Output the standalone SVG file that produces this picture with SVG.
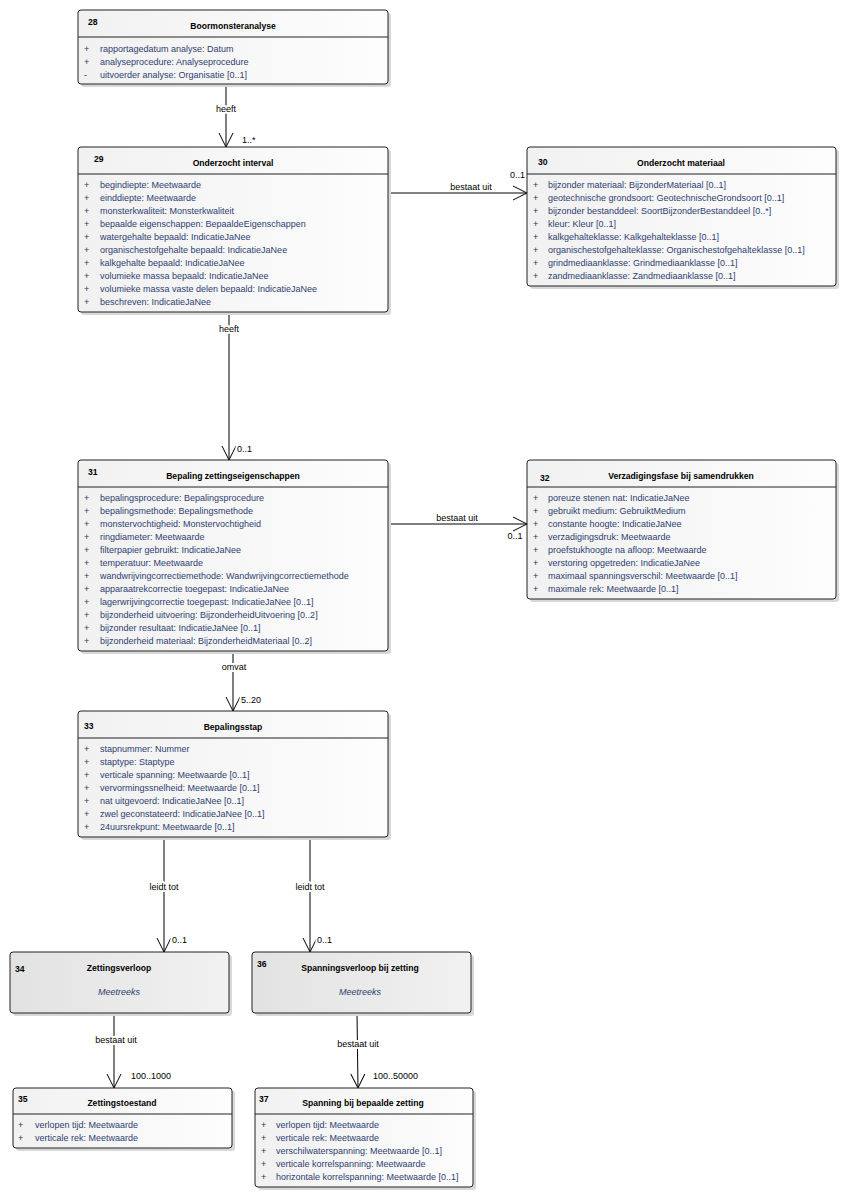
<svg xmlns="http://www.w3.org/2000/svg" width="847" height="1198" viewBox="0 0 847 1198">
<defs>
<linearGradient id="gBox" x1="0" y1="0" x2="1" y2="0">
<stop offset="0" stop-color="#f1f1f1"/>
<stop offset="1" stop-color="#fdfdfd"/>
</linearGradient>
<linearGradient id="gDark" x1="0" y1="0" x2="1" y2="0">
<stop offset="0" stop-color="#e2e2e2"/>
<stop offset="1" stop-color="#f1f1f1"/>
</linearGradient>
<marker id="arr" markerUnits="userSpaceOnUse" markerWidth="18" markerHeight="18" refX="16" refY="9" orient="auto">
<path d="M2,2 L16,9 L2,16" fill="none" stroke="#000" stroke-width="1"/>
</marker>
</defs>
<style>
.box{fill:url(#gBox);stroke:#222;stroke-width:1}
.dark{fill:url(#gDark);stroke:#222;stroke-width:1}
.shadow{fill:#d8d8d8;stroke:none}
.div{stroke:#222;stroke-width:1}
text{font-family:"Liberation Sans",Arial,sans-serif;font-size:9px}
.num{font-weight:bold;fill:#000;font-size:8.6px}
.title{font-weight:bold;fill:#000;text-anchor:middle;font-size:8.6px}
.vis{fill:#2a3550}
.attr{fill:#2f4070}
.it{font-style:italic;fill:#2f4070;text-anchor:middle}
.con{stroke:#000;stroke-width:1;fill:none}
.lbl{fill:#000;paint-order:stroke;stroke:#fff;stroke-width:4px;stroke-linejoin:round}
.mid{text-anchor:middle}
.end{text-anchor:end}
</style>

<g id="connectors">
<line class="con" x1="226" y1="84" x2="226" y2="147" marker-end="url(#arr)"/>
<text class="lbl mid" x="226" y="112">heeft</text>
<text class="lbl" x="242" y="143">1..*</text>

<line class="con" x1="388" y1="193" x2="527" y2="193" marker-end="url(#arr)"/>
<text class="lbl mid" x="471" y="190">bestaat uit</text>
<text class="lbl end" x="525" y="177.5">0..1</text>

<line class="con" x1="229" y1="312" x2="229" y2="460" marker-end="url(#arr)"/>
<text class="lbl mid" x="229" y="332">heeft</text>
<text class="lbl" x="237" y="452">0..1</text>

<line class="con" x1="388" y1="524" x2="527" y2="524" marker-end="url(#arr)"/>
<text class="lbl mid" x="457" y="520.5">bestaat uit</text>
<text class="lbl mid" x="515" y="539">0..1</text>

<line class="con" x1="233" y1="651" x2="233" y2="711" marker-end="url(#arr)"/>
<text class="lbl mid" x="234" y="670">omvat</text>
<text class="lbl" x="241" y="703">5..20</text>

<line class="con" x1="164" y1="837" x2="164" y2="952" marker-end="url(#arr)"/>
<text class="lbl mid" x="164" y="890">leidt tot</text>
<text class="lbl" x="172" y="943">0..1</text>

<line class="con" x1="310" y1="837" x2="310" y2="952" marker-end="url(#arr)"/>
<text class="lbl mid" x="310" y="890">leidt tot</text>
<text class="lbl" x="317" y="943">0..1</text>

<line class="con" x1="114" y1="1013" x2="114" y2="1088" marker-end="url(#arr)"/>
<text class="lbl mid" x="116" y="1043">bestaat uit</text>
<text class="lbl" x="131" y="1079">100..1000</text>

<line class="con" x1="357" y1="1013" x2="358" y2="1088" marker-end="url(#arr)"/>
<text class="lbl mid" x="358" y="1047">bestaat uit</text>
<text class="lbl" x="373" y="1079">100..50000</text>
</g>

<g id="n28">
<rect class="shadow" x="81" y="13" width="310" height="74" rx="3"/>
<rect class="box" x="78" y="10" width="310" height="74" rx="3"/>
<line class="div" x1="78" y1="37" x2="388" y2="37"/>
<text class="num" x="88" y="25">28</text>
<text class="title" x="233" y="29">Boormonsteranalyse</text>
<text class="vis" x="84" y="51.5">+</text><text class="attr" x="100" y="51.5">rapportagedatum analyse: Datum</text>
<text class="vis" x="84" y="64.5">+</text><text class="attr" x="100" y="64.5">analyseprocedure: Analyseprocedure</text>
<text class="vis" x="84" y="77.5">-</text><text class="attr" x="100" y="77.5">uitvoerder analyse: Organisatie [0..1]</text>
</g>

<g id="n29">
<rect class="shadow" x="81" y="150" width="310" height="165" rx="3"/>
<rect class="box" x="78" y="147" width="310" height="165" rx="3"/>
<line class="div" x1="78" y1="174" x2="388" y2="174"/>
<text class="num" x="94" y="162">29</text>
<text class="title" x="233" y="166">Onderzocht interval</text>
<text class="vis" x="84" y="187.5">+</text><text class="attr" x="100" y="187.5">begindiepte: Meetwaarde</text>
<text class="vis" x="84" y="200.5">+</text><text class="attr" x="100" y="200.5">einddiepte: Meetwaarde</text>
<text class="vis" x="84" y="213.5">+</text><text class="attr" x="100" y="213.5">monsterkwaliteit: Monsterkwaliteit</text>
<text class="vis" x="84" y="226.5">+</text><text class="attr" x="100" y="226.5">bepaalde eigenschappen: BepaaldeEigenschappen</text>
<text class="vis" x="84" y="239.5">+</text><text class="attr" x="100" y="239.5">watergehalte bepaald: IndicatieJaNee</text>
<text class="vis" x="84" y="252.5">+</text><text class="attr" x="100" y="252.5">organischestofgehalte bepaald: IndicatieJaNee</text>
<text class="vis" x="84" y="265.5">+</text><text class="attr" x="100" y="265.5">kalkgehalte bepaald: IndicatieJaNee</text>
<text class="vis" x="84" y="278.5">+</text><text class="attr" x="100" y="278.5">volumieke massa bepaald: IndicatieJaNee</text>
<text class="vis" x="84" y="291.5">+</text><text class="attr" x="100" y="291.5">volumieke massa vaste delen bepaald: IndicatieJaNee</text>
<text class="vis" x="84" y="304.5">+</text><text class="attr" x="100" y="304.5">beschreven: IndicatieJaNee</text>
</g>

<g id="n30">
<rect class="shadow" x="530" y="150" width="309" height="139" rx="3"/>
<rect class="box" x="527" y="147" width="309" height="139" rx="3"/>
<line class="div" x1="527" y1="174" x2="836" y2="174"/>
<text class="num" x="538" y="165">30</text>
<text class="title" x="681" y="166">Onderzocht materiaal</text>
<text class="vis" x="533" y="187.5">+</text><text class="attr" x="548" y="187.5">bijzonder materiaal: BijzonderMateriaal [0..1]</text>
<text class="vis" x="533" y="200.5">+</text><text class="attr" x="548" y="200.5">geotechnische grondsoort: GeotechnischeGrondsoort [0..1]</text>
<text class="vis" x="533" y="213.5">+</text><text class="attr" x="548" y="213.5">bijzonder bestanddeel: SoortBijzonderBestanddeel [0..*]</text>
<text class="vis" x="533" y="226.5">+</text><text class="attr" x="548" y="226.5">kleur: Kleur [0..1]</text>
<text class="vis" x="533" y="239.5">+</text><text class="attr" x="548" y="239.5">kalkgehalteklasse: Kalkgehalteklasse [0..1]</text>
<text class="vis" x="533" y="252.5">+</text><text class="attr" x="548" y="252.5">organischestofgehalteklasse: Organischestofgehalteklasse [0..1]</text>
<text class="vis" x="533" y="265.5">+</text><text class="attr" x="548" y="265.5">grindmediaanklasse: Grindmediaanklasse [0..1]</text>
<text class="vis" x="533" y="278.5">+</text><text class="attr" x="548" y="278.5">zandmediaanklasse: Zandmediaanklasse [0..1]</text>
</g>

<g id="n31">
<rect class="shadow" x="81" y="463" width="310" height="191" rx="3"/>
<rect class="box" x="78" y="460" width="310" height="191" rx="3"/>
<line class="div" x1="78" y1="487" x2="388" y2="487"/>
<text class="num" x="88" y="475">31</text>
<text class="title" x="233" y="479">Bepaling zettingseigenschappen</text>
<text class="vis" x="84" y="501">+</text><text class="attr" x="100" y="501">bepalingsprocedure: Bepalingsprocedure</text>
<text class="vis" x="84" y="514">+</text><text class="attr" x="100" y="514">bepalingsmethode: Bepalingsmethode</text>
<text class="vis" x="84" y="527">+</text><text class="attr" x="100" y="527">monstervochtigheid: Monstervochtigheid</text>
<text class="vis" x="84" y="540">+</text><text class="attr" x="100" y="540">ringdiameter: Meetwaarde</text>
<text class="vis" x="84" y="553">+</text><text class="attr" x="100" y="553">filterpapier gebruikt: IndicatieJaNee</text>
<text class="vis" x="84" y="566">+</text><text class="attr" x="100" y="566">temperatuur: Meetwaarde</text>
<text class="vis" x="84" y="579">+</text><text class="attr" x="100" y="579">wandwrijvingcorrectiemethode: Wandwrijvingcorrectiemethode</text>
<text class="vis" x="84" y="592">+</text><text class="attr" x="100" y="592">apparaatrekcorrectie toegepast: IndicatieJaNee</text>
<text class="vis" x="84" y="605">+</text><text class="attr" x="100" y="605">lagerwrijvingcorrectie toegepast: IndicatieJaNee [0..1]</text>
<text class="vis" x="84" y="618">+</text><text class="attr" x="100" y="618">bijzonderheid uitvoering: BijzonderheidUitvoering [0..2]</text>
<text class="vis" x="84" y="631">+</text><text class="attr" x="100" y="631">bijzonder resultaat: IndicatieJaNee [0..1]</text>
<text class="vis" x="84" y="644">+</text><text class="attr" x="100" y="644">bijzonderheid materiaal: BijzonderheidMateriaal [0..2]</text>
</g>

<g id="n32">
<rect class="shadow" x="530" y="463" width="309" height="139" rx="3"/>
<rect class="box" x="527" y="460" width="309" height="139" rx="3"/>
<line class="div" x1="527" y1="487" x2="836" y2="487"/>
<text class="num" x="540" y="481">32</text>
<text class="title" x="681" y="479">Verzadigingsfase bij samendrukken</text>
<text class="vis" x="533" y="501">+</text><text class="attr" x="548" y="501">poreuze stenen nat: IndicatieJaNee</text>
<text class="vis" x="533" y="514">+</text><text class="attr" x="548" y="514">gebruikt medium: GebruiktMedium</text>
<text class="vis" x="533" y="527">+</text><text class="attr" x="548" y="527">constante hoogte: IndicatieJaNee</text>
<text class="vis" x="533" y="540">+</text><text class="attr" x="548" y="540">verzadigingsdruk: Meetwaarde</text>
<text class="vis" x="533" y="553">+</text><text class="attr" x="548" y="553">proefstukhoogte na afloop: Meetwaarde</text>
<text class="vis" x="533" y="566">+</text><text class="attr" x="548" y="566">verstoring opgetreden: IndicatieJaNee</text>
<text class="vis" x="533" y="579">+</text><text class="attr" x="548" y="579">maximaal spanningsverschil: Meetwaarde [0..1]</text>
<text class="vis" x="533" y="592">+</text><text class="attr" x="548" y="592">maximale rek: Meetwaarde [0..1]</text>
</g>

<g id="n33">
<rect class="shadow" x="81" y="714" width="310" height="126" rx="3"/>
<rect class="box" x="78" y="711" width="310" height="126" rx="3"/>
<line class="div" x1="78" y1="738" x2="388" y2="738"/>
<text class="num" x="84" y="729">33</text>
<text class="title" x="233" y="730">Bepalingsstap</text>
<text class="vis" x="84" y="752">+</text><text class="attr" x="100" y="752">stapnummer: Nummer</text>
<text class="vis" x="84" y="765">+</text><text class="attr" x="100" y="765">staptype: Staptype</text>
<text class="vis" x="84" y="778">+</text><text class="attr" x="100" y="778">verticale spanning: Meetwaarde [0..1]</text>
<text class="vis" x="84" y="791">+</text><text class="attr" x="100" y="791">vervormingssnelheid: Meetwaarde [0..1]</text>
<text class="vis" x="84" y="804">+</text><text class="attr" x="100" y="804">nat uitgevoerd: IndicatieJaNee [0..1]</text>
<text class="vis" x="84" y="817">+</text><text class="attr" x="100" y="817">zwel geconstateerd: IndicatieJaNee [0..1]</text>
<text class="vis" x="84" y="830">+</text><text class="attr" x="100" y="830">24uursrekpunt: Meetwaarde [0..1]</text>
</g>

<g id="n34">
<rect class="shadow" x="13" y="955" width="219" height="61" rx="3"/>
<rect class="dark" x="10" y="952" width="219" height="61" rx="3"/>
<text class="num" x="15" y="972">34</text>
<text class="title" x="119" y="971">Zettingsverloop</text>
<text class="it" x="119" y="995">Meetreeks</text>
</g>

<g id="n36">
<rect class="shadow" x="255" y="955" width="219" height="61" rx="3"/>
<rect class="dark" x="252" y="952" width="219" height="61" rx="3"/>
<text class="num" x="257" y="967">36</text>
<text class="title" x="360" y="971">Spanningsverloop bij zetting</text>
<text class="it" x="360" y="995">Meetreeks</text>
</g>

<g id="n35">
<rect class="shadow" x="16" y="1091" width="219" height="60" rx="3"/>
<rect class="box" x="13" y="1088" width="219" height="60" rx="3"/>
<line class="div" x1="13" y1="1114" x2="232" y2="1114"/>
<text class="num" x="18" y="1102">35</text>
<text class="title" x="122" y="1106">Zettingstoestand</text>
<text class="vis" x="18" y="1128">+</text><text class="attr" x="35" y="1128">verlopen tijd: Meetwaarde</text>
<text class="vis" x="18" y="1141">+</text><text class="attr" x="35" y="1141">verticale rek: Meetwaarde</text>
</g>

<g id="n37">
<rect class="shadow" x="258" y="1091" width="218" height="99" rx="3"/>
<rect class="box" x="255" y="1088" width="218" height="99" rx="3"/>
<line class="div" x1="255" y1="1114" x2="473" y2="1114"/>
<text class="num" x="259" y="1102">37</text>
<text class="title" x="363" y="1106">Spanning bij bepaalde zetting</text>
<text class="vis" x="261" y="1128">+</text><text class="attr" x="276" y="1128">verlopen tijd: Meetwaarde</text>
<text class="vis" x="261" y="1141">+</text><text class="attr" x="276" y="1141">verticale rek: Meetwaarde</text>
<text class="vis" x="261" y="1154">+</text><text class="attr" x="276" y="1154">verschilwaterspanning: Meetwaarde [0..1]</text>
<text class="vis" x="261" y="1167">+</text><text class="attr" x="276" y="1167">verticale korrelspanning: Meetwaarde</text>
<text class="vis" x="261" y="1180">+</text><text class="attr" x="276" y="1180">horizontale korrelspanning: Meetwaarde [0..1]</text>
</g>
</svg>
